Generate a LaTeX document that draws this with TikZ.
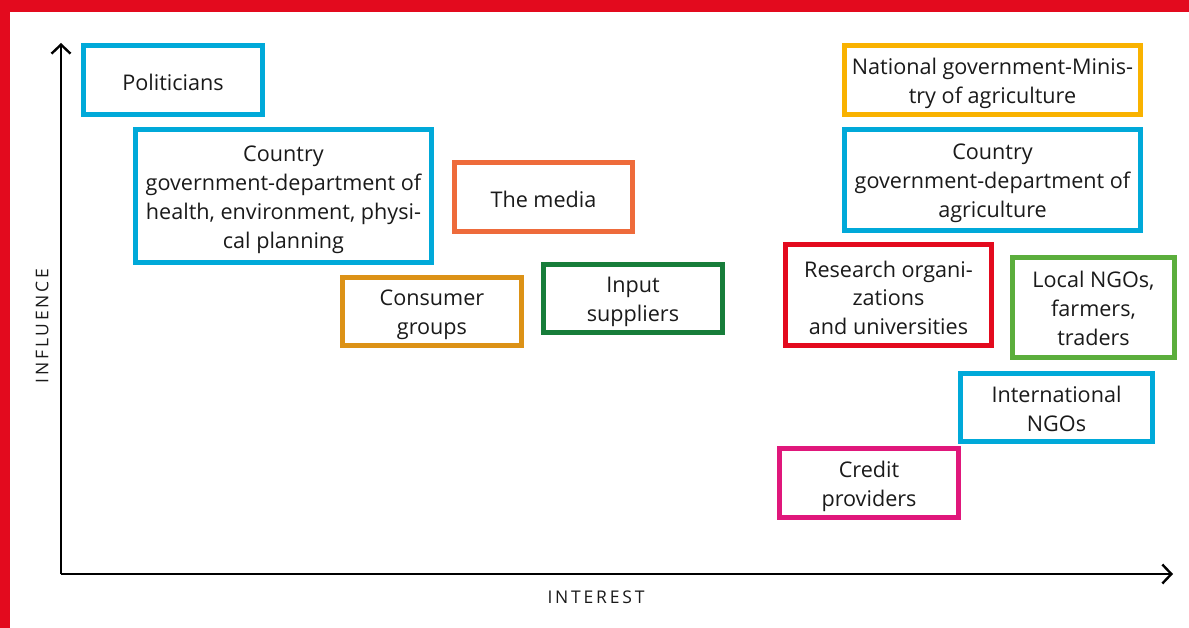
\documentclass[tikz,border=0pt]{standalone}
\usepackage{fontspec}
\setmainfont{Open Sans}
\usetikzlibrary{arrows.meta}
\definecolor{cyanb}{HTML}{00A9D9}
\definecolor{orangeb}{HTML}{EE6B3B}
\definecolor{goldb}{HTML}{DC9216}
\definecolor{dgreenb}{HTML}{177D3A}
\definecolor{yellowb}{HTML}{F9B200}
\definecolor{redb}{HTML}{E30A1E}
\definecolor{lgreenb}{HTML}{5BAE3C}
\definecolor{magb}{HTML}{E0177B}
\definecolor{txt}{HTML}{1A1A1A}
\newcommand\mytopstrut{\rule{0pt}{30pt}}
\newcommand\mytopstrutm{\rule{0pt}{26pt}}
\newcommand\mybotstrut{\rule[-8pt]{0pt}{8pt}}
\tikzset{
  sbox/.style={draw=#1, line width=5pt, rectangle, inner sep=0pt, align=center,
    text=txt, font=\fontsize{21.6}{29}\selectfont},
  axis/.style={line width=2.4pt, -{Straight Barb[length=9pt,width=19pt,line width=2.4pt]}},
  axlabel/.style={text=txt, font=\fontsize{17.5}{18}\selectfont\addfontfeatures{LetterSpace=16}}
}
\begin{document}
\begin{tikzpicture}[x=1pt,y=-1pt]
\useasboundingbox (0,0) rectangle (1189,628);
\fill[white] (0,0) rectangle (1189,628);
\fill[redb] (0,0) rectangle (1189,12);
\fill[redb] (0,0) rectangle (10,628);
\coordinate (o) at (61,574);
\coordinate (ytop) at (61,43);
\coordinate (xend) at (1173,574);
\draw[axis] (o) -- (ytop);
\draw[axis] (o) -- (xend);
\node[axlabel] (xl) at (596,597) {INTEREST};
\node[axlabel, rotate=90] (yl) at (42,326) {INFLUENCE};
\node[sbox=cyanb, minimum width=179pt, minimum height=69pt] (pol) at (173,80) {\mytopstrut Politicians\mybotstrut};
\node[sbox=cyanb, minimum width=296pt, minimum height=133pt] (cgh) at (283.5,196) {\mytopstrutm Country\\government-department of\\health, environment, physi-\\cal planning\mybotstrut};
\node[sbox=orangeb, minimum width=178pt, minimum height=69pt] (med) at (543.5,197) {\mytopstrut The media\mybotstrut};
\node[sbox=goldb, minimum width=179pt, minimum height=68pt] (con) at (432,311.5) {\mytopstrutm Consumer\\groups\mybotstrut};
\node[sbox=dgreenb, minimum width=179pt, minimum height=68pt] (inp) at (633,298.5) {\mytopstrutm Input\\suppliers\mybotstrut};
\node[sbox=yellowb, minimum width=296pt, minimum height=69pt] (nat) at (992.5,80) {\mytopstrutm National government-Minis-\\try of agriculture\mybotstrut};
\node[sbox=cyanb, minimum width=296pt, minimum height=101pt] (cga) at (992.5,180) {\mytopstrutm Country\\government-department of\\agriculture\mybotstrut};
\node[sbox=redb, minimum width=206pt, minimum height=101pt] (res) at (888.5,295) {\mytopstrut Research organi-\\zations\\and universities\mybotstrut};
\node[sbox=lgreenb, minimum width=162pt, minimum height=100pt] (loc) at (1093.5,307.5) {\mytopstrutm Local NGOs,\\farmers,\\traders\mybotstrut};
\node[sbox=cyanb, minimum width=192pt, minimum height=68pt] (int) at (1056.5,407.5) {\mytopstrutm International\\NGOs\mybotstrut};
\node[sbox=magb, minimum width=179pt, minimum height=69pt] (cre) at (869,483) {\mytopstrutm Credit\\providers\mybotstrut};
\end{tikzpicture}
\end{document}
